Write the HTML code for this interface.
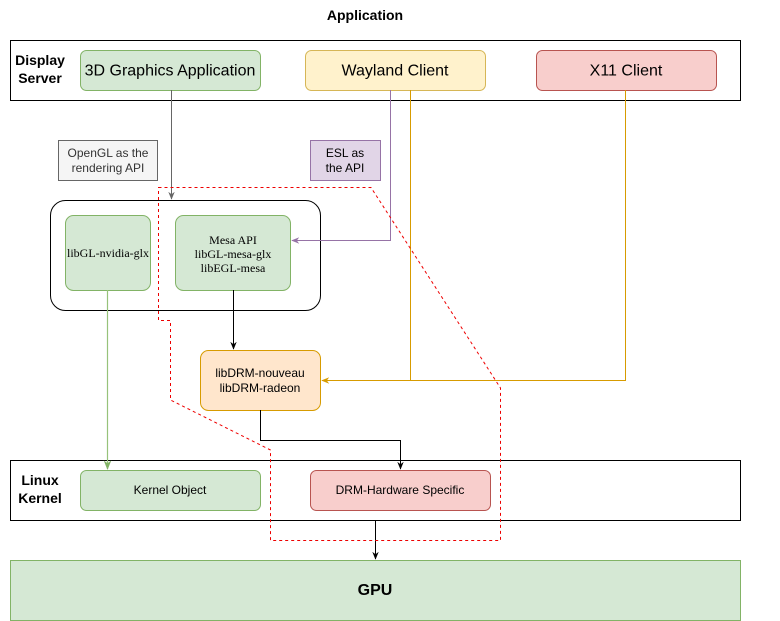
<!DOCTYPE html>
<html><head><meta charset="utf-8"><style>
html,body{margin:0;padding:0;background:#fff;}
svg{display:block;font-family:"Liberation Sans",sans-serif;}
</style></head><body>
<svg width="780" height="621" viewBox="0 0 780 621" xmlns="http://www.w3.org/2000/svg">
<defs>
<marker id="aGrey" viewBox="0 0 10 10" refX="9" refY="5" markerWidth="8" markerHeight="8" orient="auto"><path d="M0,1 L10,5 L0,9 L3,5 z" fill="#666"/></marker>
<marker id="aBlack" viewBox="0 0 10 10" refX="9" refY="5" markerWidth="8" markerHeight="8" orient="auto"><path d="M0,1 L10,5 L0,9 L3,5 z" fill="#000"/></marker>
<marker id="aPurple" viewBox="0 0 10 10" refX="9" refY="5" markerWidth="8" markerHeight="8" orient="auto"><path d="M0,1 L10,5 L0,9 L3,5 z" fill="#9673a6"/></marker>
<marker id="aOrange" viewBox="0 0 10 10" refX="9" refY="5" markerWidth="8" markerHeight="8" orient="auto"><path d="M0,1 L10,5 L0,9 L3,5 z" fill="#d79b00"/></marker>
<marker id="aGreen" viewBox="0 0 10 10" refX="9" refY="5" markerWidth="8" markerHeight="8" orient="auto"><path d="M0,1 L10,5 L0,9 L3,5 z" fill="#82b366"/></marker>
</defs>

<text x="365" y="20" text-anchor="middle" font-size="14" font-weight="bold">Application</text>

<!-- Display server band -->
<rect x="10.5" y="40.5" width="730" height="60" fill="#fff" stroke="#000"/>
<text x="40" y="65" text-anchor="middle" font-size="14" font-weight="bold">Display</text>
<text x="40" y="83" text-anchor="middle" font-size="14" font-weight="bold">Server</text>
<rect x="80.5" y="50.5" width="180" height="40" rx="6" fill="#d5e8d4" stroke="#82b366"/>
<text x="170" y="75.5" text-anchor="middle" font-size="16">3D Graphics Application</text>
<rect x="305.5" y="50.5" width="180" height="40" rx="6" fill="#fff2cc" stroke="#d6b656"/>
<text x="395" y="75.5" text-anchor="middle" font-size="16">Wayland Client</text>
<rect x="536.5" y="50.5" width="180" height="40" rx="6" fill="#f8cecc" stroke="#b85450"/>
<text x="626" y="75.5" text-anchor="middle" font-size="16">X11 Client</text>

<!-- labels -->
<rect x="58.5" y="140.5" width="99" height="40" fill="#f5f5f5" stroke="#666"/>
<text x="108" y="157" text-anchor="middle" font-size="12" fill="#333">OpenGL as the</text>
<text x="108" y="172" text-anchor="middle" font-size="12" fill="#333">rendering API</text>
<rect x="310.5" y="140.5" width="70" height="40" fill="#e1d5e7" stroke="#9673a6"/>
<text x="345" y="157" text-anchor="middle" font-size="12">ESL as</text>
<text x="345" y="172" text-anchor="middle" font-size="12">the API</text>

<!-- outer box -->
<rect x="50.5" y="200.5" width="270" height="110" rx="15" fill="#fff" stroke="#000"/>
<rect x="65.5" y="215.5" width="85" height="75" rx="8" fill="#d5e8d4" stroke="#82b366"/>
<text x="108" y="257" text-anchor="middle" font-size="12" font-family="Liberation Serif,serif">libGL-nvidia-glx</text>
<rect x="175.5" y="215.5" width="115" height="75" rx="8" fill="#d5e8d4" stroke="#82b366"/>
<g font-size="12" font-family="Liberation Serif,serif" text-anchor="middle">
<text x="233" y="244">Mesa API</text>
<text x="233" y="258">libGL-mesa-glx</text>
<text x="233" y="272">libEGL-mesa</text>
</g>

<!-- libDRM -->
<rect x="200.5" y="350.5" width="120" height="60" rx="8" fill="#ffe6cc" stroke="#d79b00"/>
<text x="260" y="377" text-anchor="middle" font-size="12">libDRM-nouveau</text>
<text x="260" y="392" text-anchor="middle" font-size="12">libDRM-radeon</text>

<!-- Linux kernel band -->
<rect x="10.5" y="460.5" width="730" height="60" fill="#fff" stroke="#000"/>
<text x="40" y="485" text-anchor="middle" font-size="14" font-weight="bold">Linux</text>
<text x="40" y="503" text-anchor="middle" font-size="14" font-weight="bold">Kernel</text>
<rect x="80.5" y="470.5" width="180" height="40" rx="6" fill="#d5e8d4" stroke="#82b366"/>
<text x="170" y="494" text-anchor="middle" font-size="12">Kernel Object</text>
<rect x="310.5" y="470.5" width="180" height="40" rx="6" fill="#f8cecc" stroke="#b85450"/>
<text x="400" y="494" text-anchor="middle" font-size="12">DRM-Hardware Specific</text>

<!-- GPU -->
<rect x="10.5" y="560.5" width="730" height="60" fill="#d5e8d4" stroke="#82b366"/>
<text x="375" y="595" text-anchor="middle" font-size="16" font-weight="bold">GPU</text>

<!-- connectors -->
<path d="M171.5,90 V199" stroke="#666" fill="none" marker-end="url(#aGrey)"/>
<path d="M390.5,90 V240.5 H292" stroke="#9673a6" fill="none" marker-end="url(#aPurple)"/>
<path d="M410.5,90 V380.5" stroke="#d79b00" fill="none"/>
<path d="M625.5,90 V380.5 H322" stroke="#d79b00" fill="none" marker-end="url(#aOrange)"/>
<path d="M233.5,290 V349" stroke="#000" fill="none" marker-end="url(#aBlack)"/>
<path d="M260.5,410 V440.5 H400.5 V469" stroke="#000" fill="none" marker-end="url(#aBlack)"/>
<path d="M107.5,290 V469" stroke="#97c27a" stroke-width="1.2" fill="none" marker-end="url(#aGreen)"/>
<path d="M375.5,520 V559" stroke="#000" fill="none" marker-end="url(#aBlack)"/>

<!-- red dashed region -->
<path d="M158.5,187.5 H371 L500.5,388 V540.5 H270.5 V450 L170.5,400 V320.5 H158.5 Z" fill="none" stroke="#e00" stroke-dasharray="3,3"/>
</svg>
</body></html>
